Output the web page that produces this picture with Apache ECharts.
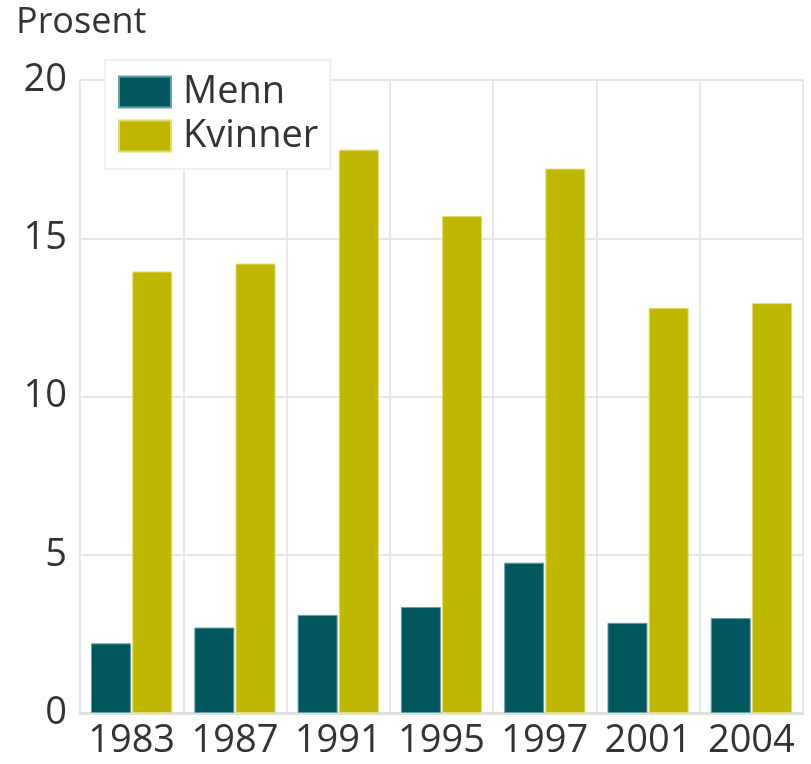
<!DOCTYPE html>
<html>
<head>
<meta charset="utf-8">
<script src="https://cdn.jsdelivr.net/npm/echarts@6/dist/echarts.min.js"></script>
<style>
  html, body { margin: 0; padding: 0; background: #fff; }
  #main { width: 811px; height: 764px; }
</style>
</head>
<body>
<div id="main"></div>
<script>
// years on the x axis
var years = ['1983', '1987', '1991', '1995', '1997', '2001', '2004'];
// percent
var menn = [2.2, 2.7, 3.1, 3.35, 4.75, 2.85, 3.0];
var kvinner = [13.95, 14.2, 17.8, 15.7, 17.2, 12.8, 12.95];

var FONT = '"Open Sans", "Noto Sans", sans-serif';

var chart = echarts.init(document.getElementById('main'));
var option = {
    animation: false,
    textStyle: { fontFamily: FONT },
    title: {
        text: 'Prosent',
        left: 16,
        top: 5,
        padding: 0,
        textStyle: { fontSize: 36, fontWeight: 'normal', color: '#333', fontFamily: FONT }
    },
    legend: {
        orient: 'vertical',
        left: 105,
        top: 60,
        padding: [13, 12, 14, 13],
        icon: 'rect',
        itemWidth: 52,
        itemHeight: 31,
        itemGap: 6,
        borderColor: '#f0f0f0',
        borderWidth: 2,
        backgroundColor: '#fff',
        textStyle: { fontSize: 38, color: '#333', fontFamily: FONT, padding: [0, 0, 0, 7] },
        data: ['Menn', 'Kvinner']
    },
    grid: { left: 80, right: 8, top: 80, bottom: 51 },
    xAxis: {
        type: 'category',
        data: years,
        axisTick: { show: false },
        axisLine: { lineStyle: { color: '#e0e0e0', width: 3 } },
        splitLine: { show: true, interval: 0, lineStyle: { color: '#e8e8e8', width: 2 } },
        axisLabel: { interval: 0, hideOverlap: false, fontSize: 38, color: '#333', margin: 9, fontFamily: FONT }
    },
    yAxis: {
        type: 'value',
        min: 0,
        max: 20,
        interval: 5,
        axisLine: { show: false },
        axisTick: { show: false },
        splitLine: { lineStyle: { color: '#e6e6e6', width: 2 } },
        axisLabel: { fontSize: 38, color: '#333', margin: 13, fontFamily: FONT }
    },
    series: [
        {
            name: 'Menn',
            type: 'bar',
            data: menn,
            barWidth: 40,
            barGap: '3%',
            itemStyle: { color: '#02575f', borderColor: '#5fa3a9', borderWidth: 1 }
        },
        {
            name: 'Kvinner',
            type: 'bar',
            data: kvinner,
            barWidth: 40,
            itemStyle: { color: '#bfb700', borderColor: '#e3db6a', borderWidth: 1 }
        }
    ]
};
chart.setOption(option);
</script>
</body>
</html>
